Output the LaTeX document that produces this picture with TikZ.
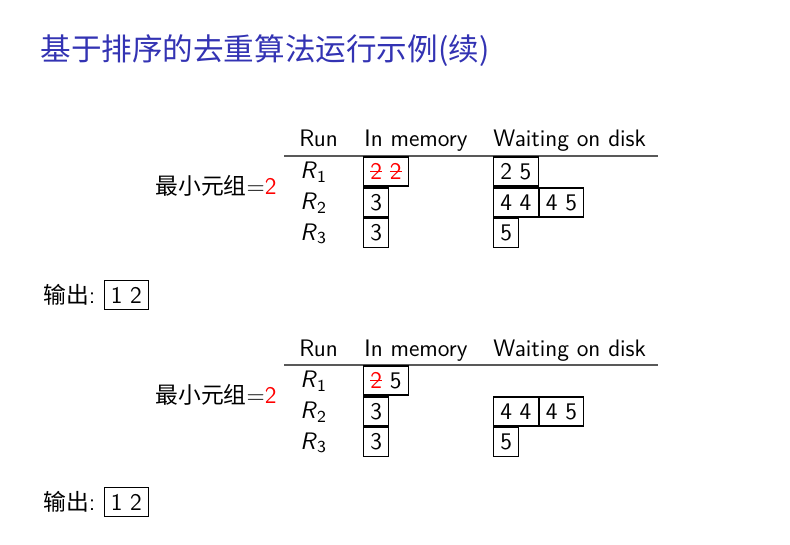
\documentclass[tikz,border=0pt]{standalone}
\usepackage{fontspec}
\newfontfamily\cjk{Noto Sans CJK SC}
\usetikzlibrary{positioning}
\definecolor{titleblue}{RGB}{51,51,179}
% a red number that has been struck out
\newcommand{\gone}[1]{\textcolor{red}{\rlap{#1}\rule[0.3em]{0.5em}{0.5pt}}}
\tikzset{
  txt/.style={anchor=west, inner sep=0pt, font=\fontsize{11}{13}\selectfont\sffamily},
  cjktxt/.style={txt, font=\fontsize{10.5}{13}\selectfont\cjk},
  cell/.style={draw, line width=0.5pt, anchor=west, minimum height=4.7mm,
    inner xsep=3.1pt, inner ysep=0pt, font=\fontsize{11}{13}\selectfont\sffamily},
  tabrule/.style={line width=0.7pt, color=black!65},
}
\begin{document}
\begin{tikzpicture}[x=0.162mm, y=-0.162mm]
    \useasboundingbox (0,0) rectangle (790,545);

    % Title
    \node[anchor=west, inner sep=0pt, text=titleblue, font=\fontsize{14.1}{17}\selectfont\cjk] (title) at (40,51) {基于排序的去重算法运行示例(续)};

    % First table: header and rule
    \node[txt, anchor=base west] (runA) at (299,147) {Run};
    \node[txt, anchor=base west] (memA) at (364,147) {In memory};
    \node[txt, anchor=base west] (diskA) at (493,147) {Waiting on disk};
    \draw[tabrule] (284,156) -- (658,156);

    % First table: rows
    \node[txt] (r1A) at (300,172) {\textit{R}\textsubscript{1}};
    \node[txt] (r2A) at (300,203) {\textit{R}\textsubscript{2}};
    \node[txt] (r3A) at (300,234) {\textit{R}\textsubscript{3}};
    \node[cell] (m1A) at (363,171.5) {\gone{2} \gone{2}};
    \node[cell] (m2A) at (363,202.5) {3};
    \node[cell] (m3A) at (363,233) {3};
    \node[cell] (d1A) at (493,171.5) {2 5};
    \node[cell] (d2A) at (493,202.5) {4 4};
    \node[cell] (d2bA) at (d2A.east) {4 5};
    \node[cell] (d3A) at (493,233) {5};

    % Smallest tuple and output
    \node[cjktxt, anchor=east] (minA) at (277,186) {最小元组{\fontsize{11}{13}\selectfont\sffamily=\textcolor{red}{2}}};
    \node[cjktxt] (outA) at (43,295) {输出{\fontsize{11}{13}\selectfont\sffamily:}};
    \node[cell, right=3.5pt of outA] (outboxA) {1 2};

    % Second table: header and rule
    \node[txt, anchor=base west] (runB) at (299,356) {Run};
    \node[txt, anchor=base west] (memB) at (364,356) {In memory};
    \node[txt, anchor=base west] (diskB) at (493,356) {Waiting on disk};
    \draw[tabrule] (284,365) -- (658,365);

    % Second table: rows
    \node[txt] (r1B) at (300,381) {\textit{R}\textsubscript{1}};
    \node[txt] (r2B) at (300,412) {\textit{R}\textsubscript{2}};
    \node[txt] (r3B) at (300,443) {\textit{R}\textsubscript{3}};
    \node[cell] (m1B) at (363,380.5) {\gone{2} 5};
    \node[cell] (m2B) at (363,411.5) {3};
    \node[cell] (m3B) at (363,442) {3};
    \node[cell] (d2B) at (493,411.5) {4 4};
    \node[cell] (d2bB) at (d2B.east) {4 5};
    \node[cell] (d3B) at (493,442) {5};

    % Smallest tuple and output
    \node[cjktxt, anchor=east] (minB) at (277,395) {最小元组{\fontsize{11}{13}\selectfont\sffamily=\textcolor{red}{2}}};
    \node[cjktxt] (outB) at (43,502) {输出{\fontsize{11}{13}\selectfont\sffamily:}};
    \node[cell, right=3.5pt of outB] (outboxB) {1 2};

  \end{tikzpicture}
\end{document}
